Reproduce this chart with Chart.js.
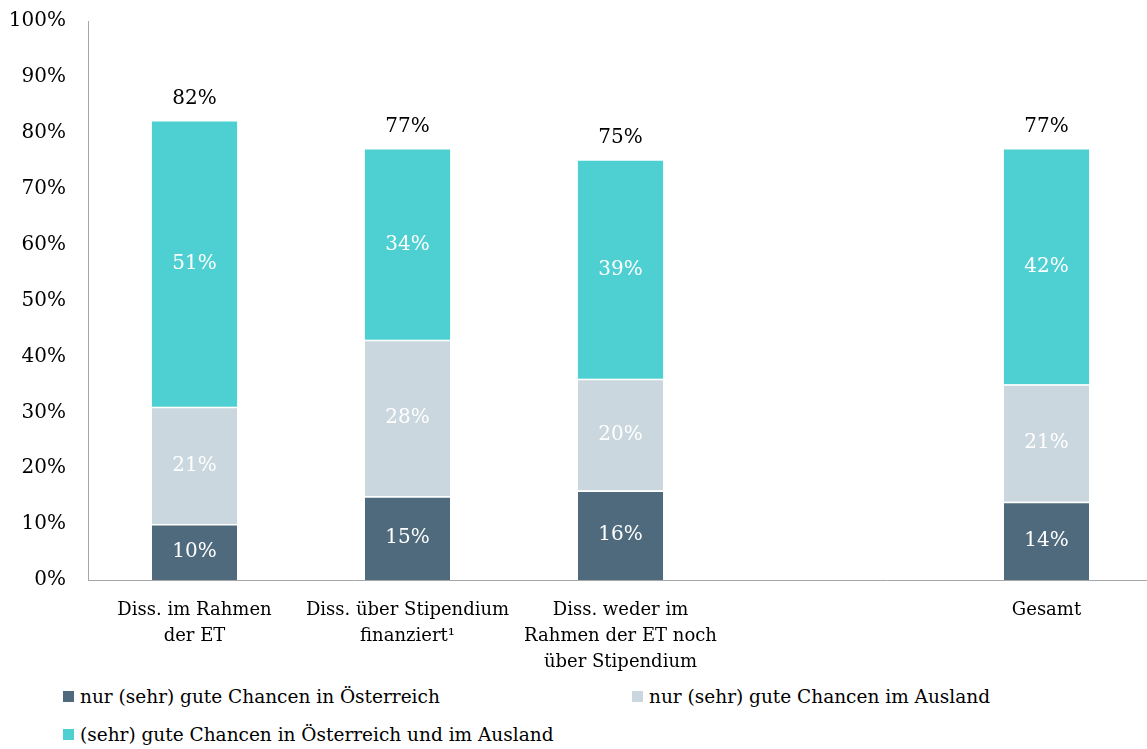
<!DOCTYPE html>
<html lang="de">
<head>
<meta charset="utf-8">
<title>Chancen am Arbeitsmarkt</title>
<script src="https://cdn.jsdelivr.net/npm/chart.js@4.4.1/dist/chart.umd.min.js"></script>
<style>
    html, body {
        margin: 0;
        padding: 0;
        background: #ffffff;
        overflow: hidden;
    }
    #wrap {
        position: relative;
        width: 1153px;
        height: 749px;
    }
    #chart {
        position: absolute;
        left: 0;
        top: -5px;
    }
    #legend {
        position: absolute;
        left: 63px;
        top: 684px;
        width: 1080px;
        font-family: "DejaVu Serif", serif;
        font-size: 18.5px;
        color: #000;
    }
    .item {
        position: absolute;
        white-space: nowrap;
        line-height: 26px;
    }
    .box {
        display: inline-block;
        width: 11px;
        height: 11px;
        margin-right: 6px;
        vertical-align: 1px;
    }
</style>
</head>
<body>
<div id="wrap">
    <canvas id="chart" width="1153" height="685"></canvas>
    <div id="legend"></div>
</div>
<script>
// Categories along the x axis (4th slot is left empty as a spacer before "Gesamt")
const categories = [
    ['Diss. im Rahmen', 'der ET'],
    ['Diss. über Stipendium', 'finanziert¹'],
    ['Diss. weder im', 'Rahmen der ET noch', 'über Stipendium'],
    '',
    'Gesamt'
];

const seriesNames = [
    'nur (sehr) gute Chancen in Österreich',
    'nur (sehr) gute Chancen im Ausland',
    '(sehr) gute Chancen in Österreich und im Ausland'
];

// Values in percent
const onlyAustria = [10, 15, 16, null, 14];
const onlyAbroad = [21, 28, 20, null, 21];
const both = [51, 34, 39, null, 42];

const seriesColors = ['#4E6A7C', '#CAD7DF', '#4ED0D2'];

const yTicks = [0, 10, 20, 30, 40, 50, 60, 70, 80, 90, 100];

const labelFont = '20px "DejaVu Serif", serif';

// Value labels inside the segments and totals on top of each stack
const valueLabels = {
    id: 'valueLabels',
    afterDatasetsDraw(chart) {
        const ctx = chart.ctx;
        ctx.save();
        ctx.font = labelFont;
        ctx.textAlign = 'center';
        ctx.textBaseline = 'middle';

        chart.data.datasets.forEach((ds, i) => {
            let meta = chart.getDatasetMeta(i);
            meta.data.forEach((bar, j) => {
                let v = ds.data[j];
                if (v === null) return;
                ctx.fillStyle = '#ffffff';
                ctx.fillText(v + '%', bar.x, (bar.y + bar.base) / 2);
            });
        });

        let last = chart.getDatasetMeta(chart.data.datasets.length - 1);
        last.data.forEach((bar, j) => {
            let total = 0;
            let has = false;
            chart.data.datasets.forEach(ds => {
                if (ds.data[j] !== null) {
                    total += ds.data[j];
                    has = true;
                }
            });
            if (!has) return;
            ctx.fillStyle = '#000000';
            ctx.fillText(total + '%', bar.x, bar.y - 23);
        });
        ctx.restore();
    }
};

const ctx = document.getElementById('chart').getContext('2d');

new Chart(ctx, {
    type: 'bar',
    data: {
        labels: categories,
        datasets: [onlyAustria, onlyAbroad, both].map((data, i) => ({
            label: seriesNames[i],
            data: data,
            backgroundColor: seriesColors[i],
            borderColor: '#ffffff',
            borderWidth: { top: i < 2 ? 1.5 : 0, left: 0, right: 0, bottom: 0 },
            borderSkipped: false,
            categoryPercentage: 0.4,
            barPercentage: 1
        }))
    },
    options: {
        responsive: false,
        animation: false,
        layout: {
            autoPadding: false,
            padding: { top: 15, right: 0, bottom: 0, left: 0 }
        },
        plugins: {
            legend: { display: false },
            tooltip: { enabled: false }
        },
        scales: {
            x: {
                stacked: true,
                grid: { display: false },
                border: { display: true, color: '#A6A6A6', width: 1 },
                ticks: {
                    color: '#000000',
                    font: { family: '"DejaVu Serif", serif', size: 18, lineHeight: 1.45 },
                    padding: 9,
                    maxRotation: 0,
                    autoSkip: false
                },
                afterFit(scale) {
                    scale.height = 100;
                }
            },
            y: {
                stacked: true,
                min: 0,
                max: 100,
                grid: { display: false },
                border: { display: true, color: '#A6A6A6', width: 1 },
                afterBuildTicks(scale) {
                    scale.ticks = yTicks.map(v => ({ value: v }));
                },
                ticks: {
                    color: '#000000',
                    font: { family: '"DejaVu Serif", serif', size: 20 },
                    padding: 14,
                    callback: v => v + '%'
                },
                afterFit(scale) {
                    scale.width = 88;
                }
            }
        }
    },
    plugins: [valueLabels]
});

// Legend: two columns, third entry wraps to a second row
const legendPos = [[0, 0], [569, 0], [0, 38]];
let legend = document.getElementById('legend');
seriesNames.forEach((name, i) => {
    let item = document.createElement('div');
    item.className = 'item';
    item.style.left = legendPos[i][0] + 'px';
    item.style.top = legendPos[i][1] + 'px';
    item.innerHTML = '<span class="box" style="background:' + seriesColors[i] + '"></span>' + name;
    legend.appendChild(item);
});
</script>
</body>
</html>
